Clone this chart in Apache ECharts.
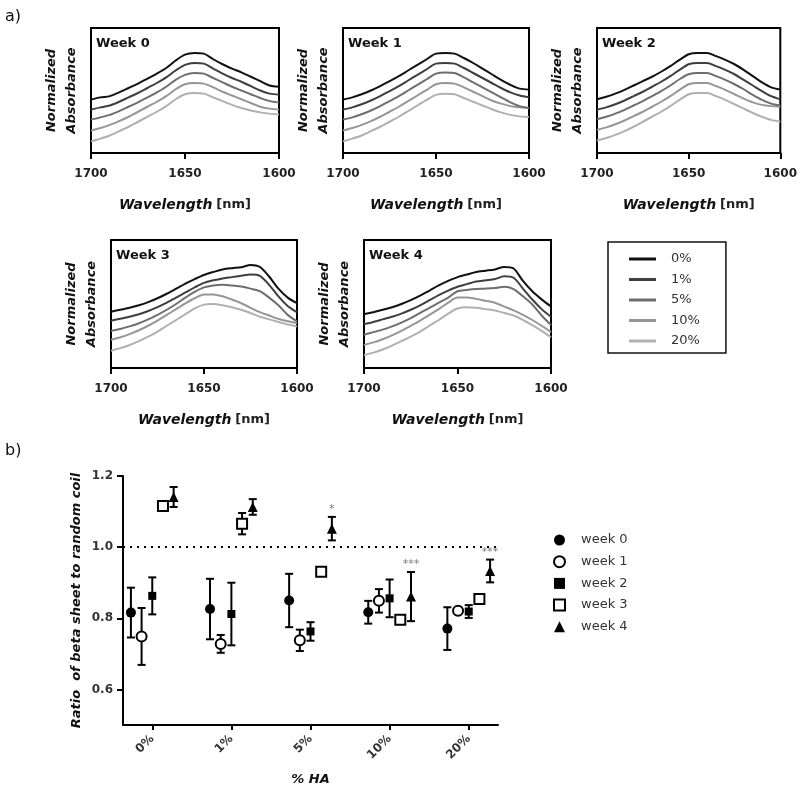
<!DOCTYPE html>
<html lang="en">
<head>
    <meta charset="UTF-8">
    <title>Spectra and ratio</title>
    <style>
        html, body { margin: 0; padding: 0; background: #fff; }
    </style>
</head>
<body>
<script src="https://cdn.jsdelivr.net/npm/echarts@6/dist/echarts.min.js"></script>

<div id="main" style="width: 800px;height:787px;"></div>

<script type="text/javascript">
    // wavelength grid of the spectra (nm)
    var wavelengths = [1700, 1695, 1690, 1685, 1680, 1675, 1670, 1665, 1660, 1655, 1650,
                       1645, 1640, 1635, 1630, 1625, 1620, 1615, 1610, 1605, 1600];
    var haLevels = ['0%', '1%', '5%', '10%', '20%'];
    var weekNames = ['week 0', 'week 1', 'week 2', 'week 3', 'week 4'];
    var panelTitles = ['Week 0', 'Week 1', 'Week 2', 'Week 3', 'Week 4'];

    // normalized absorbance (stacked/offset as in the figure), rows = 0%,1%,5%,10%,20%
    var week0 = [
        [42.7, 44.5, 45.5, 48.5, 52, 55.5, 59.5, 63.5, 68, 74, 78.7, 80, 79.5, 75, 71, 67.5, 64.5, 61, 57.5, 54, 53],
        [34.7, 36.5, 38, 41, 44.5, 48, 52, 56, 60.5, 66, 70.5, 72, 71.5, 67.5, 63.5, 60, 57, 53.5, 50, 47.5, 46.7],
        [26.7, 28.5, 30.5, 33.5, 37, 40.5, 44.5, 48.5, 53, 58.5, 62.5, 64, 63.5, 60, 56.5, 53, 50, 47, 44, 41.5, 40.5],
        [18, 20, 22.5, 25.5, 29, 33, 37, 41, 45.5, 51, 55, 56, 55.5, 52.5, 49, 46, 43, 40, 37, 35.5, 34.7],
        [9.3, 11.5, 14, 17.5, 21, 25, 29, 33, 37.5, 43, 47, 48, 47.5, 44.5, 41.5, 38.5, 36, 34, 32.5, 31.5, 31]
    ];
    var week1 = [
        [42.7, 44.5, 47, 50, 53.5, 57.5, 61.5, 66, 70.5, 75, 79.5, 80, 79.5, 76, 72, 67.5, 63, 58.5, 54.5, 51.5, 50.7],
        [34.7, 36.5, 39, 42, 45.5, 49.5, 53.5, 58, 62.5, 67, 71.5, 72, 71.5, 68, 64, 60, 56, 52, 48.5, 46, 44.5],
        [26.7, 28.5, 31, 34, 37.5, 41.5, 45.5, 50, 54.5, 59, 63.5, 64.5, 64, 60.5, 56.5, 52.5, 48.5, 44.5, 40.5, 37.5, 36],
        [18, 20, 22.5, 25.5, 29, 33, 37, 41.5, 46, 50.5, 55, 56, 55.5, 52.5, 49, 45.5, 42, 39.5, 37.5, 36.5, 36],
        [9.3, 11.5, 14, 17.5, 21, 25, 29, 33.5, 38, 42.5, 46.5, 47.5, 47, 44, 41, 38, 35, 32.5, 30.5, 29.3, 28.8]
    ];
    var week2 = [
        [43, 45, 47.5, 50.5, 54, 57.5, 61, 65, 69.5, 74.5, 79, 80, 80, 77.5, 74.5, 71, 66.5, 61.5, 56.5, 52.5, 50.7],
        [34.7, 36.5, 39, 42, 45.5, 49, 53, 57, 61.5, 66.5, 71, 72, 72, 69.5, 66.5, 63, 58.5, 54, 49.5, 45.5, 43],
        [27, 29, 31.5, 34.5, 38, 41.5, 45.5, 49.5, 54, 59, 63, 64, 64, 61.5, 58.5, 55, 51, 46.5, 42.5, 39.5, 38],
        [18.5, 20.5, 23, 26, 29.5, 33, 37, 41, 45.5, 50.5, 55, 56, 56, 53.5, 50.5, 47, 43.5, 40.5, 38.5, 37.5, 37],
        [10, 12, 14.5, 17.5, 21, 25, 29, 33, 37.5, 42.5, 47, 48, 48, 45.5, 42.5, 39, 35.5, 32, 29, 26.5, 25]
    ];
    var week3 = [
        [44, 45.5, 47, 49, 51.5, 54.5, 58, 62, 66, 69.5, 72.7, 75, 77, 78, 78.7, 80.5, 79, 71.5, 62, 55, 50.6],
        [36.9, 38.5, 40, 42, 44.5, 47.5, 51, 55, 59, 63, 66.5, 68.5, 70, 71, 72, 73, 72, 65, 56, 48.5, 43.6],
        [29, 30.5, 32.5, 35, 38, 41.5, 45.5, 50, 55, 59.5, 63, 64.5, 65, 64.5, 63.6, 62, 60, 55, 49, 41.5, 36.4],
        [22, 24, 26.5, 29.5, 33, 37, 41.5, 46, 50.5, 54.5, 57.5, 57.5, 56, 53.5, 50.6, 47, 43.6, 41, 38.4, 36.5, 35],
        [13.5, 15.5, 18, 21, 24.5, 28.5, 33, 37.5, 42, 46.5, 49.5, 50, 49, 47.5, 45.5, 43, 40, 38, 36, 34, 32.5]
    ];
    var week4 = [
        [42, 43.5, 45.5, 47.5, 50, 53, 56.5, 60.5, 64.5, 68, 71, 73, 75, 76, 77, 79, 77.7, 68, 60, 53.6, 48],
        [34.3, 36, 38, 40, 42.5, 45.5, 49, 53, 57, 60.5, 63.5, 65.5, 67.5, 68.5, 69.5, 71.6, 70.5, 62, 53.5, 46, 40],
        [26, 28, 30, 32.5, 35.5, 39, 43, 47, 51, 55, 60, 61, 61.7, 62, 62.5, 63.5, 61.7, 56, 49.6, 41, 33.5],
        [18, 20, 22.5, 25.5, 29, 33, 37, 41.5, 46, 51, 55, 55, 54, 52.5, 51, 48, 45, 41.5, 37.5, 33, 28],
        [10, 12, 14.5, 17.5, 21, 24.5, 28.5, 33, 37.5, 42.5, 46.5, 47.5, 47, 46, 45, 43, 41, 37.5, 33.5, 29, 24]
    ];
    var spectra = [week0, week1, week2, week3, week4];

    // ratio of beta sheet to random coil, rows = week 0..4, cols = 0%,1%,5%,10%,20% HA
    var ratioMean = [
        [0.816, 0.826, 0.850, 0.817, 0.771],
        [0.749, 0.728, 0.738, 0.849, 0.821],
        [0.863, 0.812, 0.763, 0.856, 0.819],
        [1.116, 1.066, 0.931, 0.796, 0.854],
        [1.141, 1.113, 1.052, 0.861, 0.933]
    ];
    var ratioErr = [
        [0.070, 0.085, 0.075, 0.032, 0.060],
        [0.080, 0.025, 0.030, 0.033, 0.006],
        [0.052, 0.088, 0.026, 0.053, 0.018],
        [0.008, 0.030, 0.010, 0.012, 0.012],
        [0.028, 0.022, 0.033, 0.069, 0.032]
    ];
    var sigWeek4 = ['', '', '*', '***', '***'];
    var yTicks = [0.6, 0.8, 1.0, 1.2];

    // layout / style
    var lineColors = ['#111111', '#3e3e3e', '#6e6e6e', '#969696', '#b0b0b0'];
    var weekSymbols = ['circle', 'emptyCircle', 'rect', 'emptyRect', 'triangle'];
    var weekSymbolSize = [10, 10, 8, 10, 10];
    var weekOffset = [-0.27, -0.135, 0, 0.135, 0.27];
    var panelGrids = [
        {left: 91, top: 28, width: 188, height: 125},
        {left: 343, top: 28, width: 186, height: 125},
        {left: 597, top: 28, width: 187, height: 125},
        {left: 111, top: 240, width: 186, height: 128},
        {left: 364, top: 240, width: 187, height: 128}
    ];
    var font = 'DejaVu Sans';

    var myChart = echarts.init(document.getElementById('main'));

    var grids = [], xAxes = [], yAxes = [], series = [], titles = [];

    titles.push({text: 'a)', left: 0, top: 4, textStyle: {fontSize: 16, fontWeight: 'normal', color: '#111', fontFamily: font}});
    titles.push({text: 'b)', left: 0, top: 438, textStyle: {fontSize: 16, fontWeight: 'normal', color: '#111', fontFamily: font}});

    panelGrids.forEach(function (g, p) {
        grids.push({left: g.left, top: g.top, width: g.width, height: g.height,
            show: true, borderColor: '#000', borderWidth: 2, backgroundColor: 'transparent'});
        titles.push({text: panelTitles[p], left: g.left + 5, top: g.top + 9, padding: 0,
            textStyle: {fontSize: 13, fontWeight: 'bold', color: '#111', fontFamily: font}});
        xAxes.push({
            type: 'value', gridIndex: p, min: 1600, max: 1700, interval: 50, inverse: true,
            axisLine: {show: true, onZero: false, lineStyle: {color: '#000', width: 2}},
            axisTick: {show: true, length: 6, lineStyle: {color: '#000', width: 2}},
            axisLabel: {margin: 15, fontSize: 12, fontWeight: 'bold', color: '#222', fontFamily: font,
                formatter: function (v) { return String(v); }},
            splitLine: {show: false},
            name: '{i|Wavelength} {n|[nm]}', nameLocation: 'middle', nameGap: 45,
            nameTextStyle: {
                rich: {
                    i: {fontSize: 14, fontWeight: 'bold', fontStyle: 'italic', color: '#111', fontFamily: font},
                    n: {fontSize: 13, fontWeight: 'bold', color: '#222', fontFamily: font}
                }
            }
        });
        yAxes.push({
            type: 'value', gridIndex: p, min: 0, max: 100,
            axisLine: {show: false, onZero: false}, axisTick: {show: false}, axisLabel: {show: false},
            splitLine: {show: false},
            name: 'Normalized\nAbsorbance', nameLocation: 'middle', nameRotate: 90, nameGap: 9,
            nameTextStyle: {fontSize: 13, fontWeight: 'bold', fontStyle: 'italic', color: '#111',
                lineHeight: 20, fontFamily: font}
        });
        for (var k = haLevels.length - 1; k >= 0; k--) {
            series.push({
                type: 'line', name: haLevels[k], xAxisIndex: p, yAxisIndex: p,
                data: wavelengths.map(function (w, i) { return [w, spectra[p][k][i]]; }),
                smooth: 0.3, symbol: 'none', showSymbol: false, silent: true,
                lineStyle: {color: lineColors[k], width: 2},
                itemStyle: {color: lineColors[k]},
                z: 10 - k
            });
        }
    });

    // panel b
    var gb = 5;
    grids.push({left: 123, top: 476, width: 375, height: 249});
    xAxes.push({
        type: 'value', gridIndex: gb, min: -0.37, max: 4.37,
        axisLine: {show: true, onZero: false, lineStyle: {color: '#000', width: 2}},
        axisTick: {show: true, length: 5, customValues: [0, 1, 2, 3, 4], lineStyle: {color: '#000', width: 2}},
        axisLabel: {customValues: [0, 1, 2, 3, 4], rotate: 45, margin: 12,
            formatter: function (v) { return haLevels[Math.round(v)]; },
            fontSize: 12, fontWeight: 'bold', color: '#333', fontFamily: font},
        splitLine: {show: false},
        name: '% HA', nameLocation: 'middle', nameGap: 48,
        nameTextStyle: {fontSize: 13, fontWeight: 'bold', fontStyle: 'italic', color: '#111', fontFamily: font}
    });
    yAxes.push({
        type: 'value', gridIndex: gb, min: 0.5, max: 1.2,
        axisLine: {show: true, onZero: false, lineStyle: {color: '#000', width: 2}},
        axisTick: {show: true, length: 6, customValues: yTicks, lineStyle: {color: '#000', width: 2}},
        axisLabel: {customValues: yTicks, margin: 10,
            formatter: function (v) { return v.toFixed(1); },
            fontSize: 12, fontWeight: 'bold', color: '#333', fontFamily: font},
        splitLine: {show: false},
        name: 'Ratio  of beta sheet to random coil', nameLocation: 'middle', nameRotate: 90, nameGap: 40,
        nameTextStyle: {fontSize: 13, fontWeight: 'bold', fontStyle: 'italic', color: '#111', fontFamily: font}
    });

    // error bars
    var errData = [];
    weekNames.forEach(function (wk, w) {
        haLevels.forEach(function (lv, i) {
            errData.push([i + weekOffset[w], ratioMean[w][i] - ratioErr[w][i], ratioMean[w][i] + ratioErr[w][i]]);
        });
    });
    series.push({
        type: 'custom', name: 'sd', xAxisIndex: gb, yAxisIndex: gb, silent: true, z: 2,
        data: errData,
        encode: {x: 0, y: [1, 2]},
        renderItem: function (params, api) {
            var lo = api.coord([api.value(0), api.value(1)]);
            var hi = api.coord([api.value(0), api.value(2)]);
            var cap = 4;
            var st = {stroke: '#000', lineWidth: 2};
            return {
                type: 'group',
                children: [
                    {type: 'line', shape: {x1: lo[0], y1: lo[1], x2: hi[0], y2: hi[1]}, style: st},
                    {type: 'line', shape: {x1: lo[0] - cap, y1: lo[1], x2: lo[0] + cap, y2: lo[1]}, style: st},
                    {type: 'line', shape: {x1: hi[0] - cap, y1: hi[1], x2: hi[0] + cap, y2: hi[1]}, style: st}
                ]
            };
        }
    });

    weekNames.forEach(function (wk, w) {
        var s = {
            type: 'scatter', name: wk, xAxisIndex: gb, yAxisIndex: gb, silent: true, z: 5,
            symbol: weekSymbols[w], symbolSize: weekSymbolSize[w],
            itemStyle: {color: '#000', borderColor: '#000', borderWidth: w === 1 || w === 3 ? 2 : 0, opacity: 1},
            data: haLevels.map(function (lv, i) { return [i + weekOffset[w], ratioMean[w][i]]; })
        };
        if (w === 0) {
            s.markLine = {
                silent: true, symbol: 'none', label: {show: false},
                lineStyle: {color: '#000', width: 2, type: [2, 5]},
                data: [{yAxis: 1.0}]
            };
        }
        series.push(s);
    });

    // significance marks above week 4
    series.push({
        type: 'scatter', name: 'sig', xAxisIndex: gb, yAxisIndex: gb, silent: true, z: 6,
        symbolSize: 0,
        data: haLevels.map(function (lv, i) { return [i + weekOffset[4], ratioMean[4][i] + ratioErr[4][i]]; }),
        label: {show: true, position: 'top', distance: 2,
            formatter: function (p) { return sigWeek4[p.dataIndex]; },
            fontSize: 11, color: '#555', fontFamily: font}
    });

    myChart.setOption({
        animation: false,
        textStyle: {fontFamily: font},
        title: titles,
        legend: [
            {
                data: haLevels, orient: 'vertical', left: 608, top: 242,
                padding: [10, 26, 5, 21], borderColor: '#111', borderWidth: 1.5,
                icon: 'rect', itemWidth: 27, itemHeight: 3, itemGap: 6.5,
                selectedMode: false,
                textStyle: {fontSize: 13, color: '#333', lineHeight: 14, padding: [0, 0, 0, 10], fontFamily: font}
            },
            {
                data: weekNames, orient: 'vertical', left: 548, top: 528,
                itemWidth: 11, itemHeight: 11, itemGap: 7.7, selectedMode: false,
                itemStyle: {borderWidth: 'inherit'},
                textStyle: {fontSize: 13, color: '#333', lineHeight: 14, padding: [0, 0, 0, 11], fontFamily: font}
            }
        ],
        grid: grids,
        xAxis: xAxes,
        yAxis: yAxes,
        series: series
    });
</script>
</body>
</html>
